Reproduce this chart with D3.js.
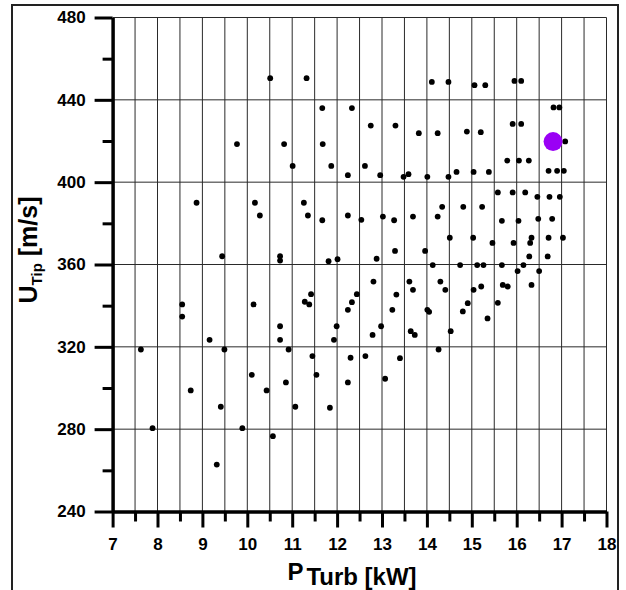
<!DOCTYPE html>
<html>
<head>
<meta charset="utf-8">
<script src="https://cdn.jsdelivr.net/npm/d3@7/dist/d3.min.js"></script>
<style>
  html, body { margin: 0; padding: 0; background: #fff; }
  svg { display: block; }
  text { font-family: "Liberation Sans", Arial, sans-serif; font-weight: bold; fill: #000; }
</style>
</head>
<body>
<svg id="chart" width="626" height="590"></svg>
<script>
// ---- Data ----
const powerKW = [
  10.51, 11.32, 11.67, 12.33, 9.77, 10.82, 11.68, 11.01, 11.87, 12.24, 8.87, 10.17, 10.28, 11.26, 11.35, 11.67, 12.24,
  9.44, 10.73, 10.73, 11.81, 12.01, 8.55, 8.55, 10.14, 11.42, 11.28, 11.38, 12.44, 12.33, 12.24, 10.73, 10.73, 11.99, 11.93,
  9.16, 7.63, 9.49, 10.92, 11.45, 12.30, 10.10, 11.54, 10.86, 12.24, 8.74, 10.43, 9.41, 11.07, 11.84, 7.89, 9.89, 10.57, 9.32,
  14.11, 14.48, 15.06, 15.30, 15.95, 16.10, 16.82, 16.95, 12.75, 13.30, 13.82, 14.24, 14.89, 15.20, 15.91, 16.10, 17.08,
  12.62, 12.96, 13.48, 13.59, 14.01, 14.48, 14.66, 15.04, 15.38, 15.79, 16.05, 16.27, 16.71, 16.90, 17.05,
  15.58, 15.91, 16.19, 16.46, 16.73, 16.96, 14.34, 14.81, 15.23, 12.54, 13.02, 13.27, 13.69, 14.24, 15.67, 16.04, 16.48, 16.79,
  14.51, 15.03, 15.46, 15.93, 16.33, 16.30, 16.71, 17.03, 13.29, 13.96, 12.88, 16.28, 16.69,
  14.13, 14.74, 15.12, 15.26, 15.67, 16.15, 16.02, 16.50, 16.33, 12.81, 13.32, 13.61, 13.69, 14.30, 14.41, 15.04, 15.21,
  15.69, 15.80, 13.23, 14.01, 14.05, 14.91, 14.80, 15.58, 15.35, 12.98, 12.79, 13.64, 13.73, 14.53, 14.26, 12.63, 13.40, 13.07
];
const tipSpeed = [
  450.5, 450.5, 436.0, 436.0, 418.5, 418.5, 418.5, 407.9, 407.9, 403.4, 390.0, 390.0, 383.8, 390.0, 383.8, 381.5, 383.8,
  364.0, 364.0, 361.9, 361.6, 362.6, 340.6, 334.7, 340.6, 345.6, 341.9, 340.6, 345.6, 341.7, 338.0, 330.0, 323.4, 330.0, 323.4,
  323.4, 318.7, 318.7, 318.7, 315.5, 314.7, 306.4, 306.4, 302.7, 302.7, 298.8, 298.8, 290.9, 290.9, 290.4, 280.5, 280.5, 276.6, 262.8,
  448.7, 448.7, 447.1, 447.1, 449.2, 449.2, 436.3, 436.3, 427.5, 427.5, 423.8, 423.8, 424.6, 424.3, 428.3, 428.3, 419.8,
  407.9, 403.4, 402.6, 403.9, 402.6, 402.6, 405.0, 405.0, 405.0, 410.5, 410.5, 410.5, 405.5, 405.5, 405.5,
  395.0, 395.0, 395.0, 392.9, 392.9, 392.9, 388.0, 388.0, 388.0, 381.7, 383.3, 381.5, 383.3, 383.3, 381.2, 381.2, 382.2, 382.2,
  373.0, 373.0, 370.5, 370.5, 373.0, 370.5, 373.0, 373.0, 366.6, 366.6, 362.8, 363.9, 363.9,
  359.7, 359.7, 359.7, 359.7, 359.7, 359.7, 356.8, 356.8, 350.1, 351.7, 345.4, 351.7, 347.7, 351.7, 347.7, 347.7, 349.3,
  350.1, 349.3, 338.0, 338.0, 337.0, 341.2, 337.2, 341.4, 333.8, 330.0, 325.8, 327.6, 325.8, 327.6, 318.7, 315.5, 314.5, 304.5
];
const highlightPower = [16.81];
const highlightTip = [419.7];

const xDomain = [7, 18];
const yDomain = [240, 480];
const xMajorTicks = [7, 8, 9, 10, 11, 12, 13, 14, 15, 16, 17, 18];
const xMinorTicks = [7.5, 8.5, 9.5, 10.5, 11.5, 12.5, 13.5, 14.5, 15.5, 16.5, 17.5];
const xGridValues = [7.5, 8, 8.5, 9, 9.5, 10, 10.5, 11, 11.5, 12, 12.5, 13, 13.5, 14, 14.5, 15, 15.5, 16, 16.5, 17, 17.5, 18];
const yMajorTicks = [240, 280, 320, 360, 400, 440, 480];
const yMinorTicks = [260, 300, 340, 380, 420, 460];
const yGridValues = [280, 320, 360, 400, 440, 480];

// ---- Drawing ----
const svg = d3.select("#chart");
const x = d3.scaleLinear().domain(xDomain).range([112.6, 606.5]);
const y = d3.scaleLinear().domain(yDomain).range([511.5, 17.5]);

// outer frame
svg.append("rect")
  .attr("x", 12).attr("y", 5).attr("width", 606).attr("height", 600)
  .attr("fill", "none").attr("stroke", "#222").attr("stroke-width", 2);

// grid
const grid = svg.append("g");
grid.selectAll("line.v").data(xGridValues).join("line")
  .attr("class", "v")
  .attr("x1", d => x(d)).attr("x2", d => x(d))
  .attr("y1", y(480)).attr("y2", y(240))
  .attr("stroke", "#2a2a2a").attr("stroke-width", 1);
grid.selectAll("line.h").data(yGridValues).join("line")
  .attr("class", "h")
  .attr("x1", x(7)).attr("x2", x(18))
  .attr("y1", d => y(d)).attr("y2", d => y(d))
  .attr("stroke", "#2a2a2a").attr("stroke-width", 1);

// axes
function styleAxis(g) {
  g.select(".domain").attr("stroke", "#000").attr("stroke-width", 3);
  g.selectAll(".tick line").attr("stroke", "#000").attr("stroke-width", 3);
  g.selectAll("text").style("font-size", "17px").style("font-weight", "bold")
    .style("font-family", "'Liberation Sans', Arial, sans-serif").attr("fill", "#000");
}
const xMinorG = svg.append("g").attr("transform", `translate(0,${y(240)})`)
  .call(d3.axisBottom(x).tickValues(xMinorTicks).tickSize(10).tickSizeOuter(0).tickFormat(""));
styleAxis(xMinorG);
const xAxisG = svg.append("g").attr("transform", `translate(0,${y(240)})`)
  .call(d3.axisBottom(x).tickValues(xMajorTicks).tickSize(16).tickSizeOuter(0).tickPadding(10).tickFormat(d3.format("d")));
styleAxis(xAxisG);

const yMinorG = svg.append("g").attr("transform", `translate(${x(7)},0)`)
  .call(d3.axisLeft(y).tickValues(yMinorTicks).tickSize(10).tickSizeOuter(0).tickFormat(""));
styleAxis(yMinorG);
const yAxisG = svg.append("g").attr("transform", `translate(${x(7)},0)`)
  .call(d3.axisLeft(y).tickValues(yMajorTicks).tickSize(18).tickSizeOuter(0).tickPadding(9).tickFormat(d3.format("d")));
styleAxis(yAxisG);

// points
const pts = powerKW.map((p, i) => ({ p, u: tipSpeed[i] }));
svg.append("g").selectAll("circle").data(pts).join("circle")
  .attr("cx", d => x(d.p)).attr("cy", d => y(d.u)).attr("r", 2.9).attr("fill", "#000");

const hl = highlightPower.map((p, i) => ({ p, u: highlightTip[i] }));
svg.append("g").selectAll("circle").data(hl).join("circle")
  .attr("cx", d => x(d.p)).attr("cy", d => y(d.u)).attr("r", 9.5).attr("fill", "#9a00f5");

// axis titles
const xt = svg.append("text").attr("x", 352).attr("y", 580).attr("text-anchor", "middle")
  .style("font-size", "24px");
xt.append("tspan").text("P");
xt.append("tspan").attr("dx", 3).attr("dy", 5).text("Turb [kW]");

const yt = svg.append("text").attr("transform", "translate(37,250) rotate(-90)")
  .attr("text-anchor", "middle").style("font-size", "25px");
yt.append("tspan").text("U");
yt.append("tspan").attr("dy", 5).style("font-size", "15px").text("Tip");
yt.append("tspan").attr("dy", -5).text(" [m/s]");
</script>
</body>
</html>
